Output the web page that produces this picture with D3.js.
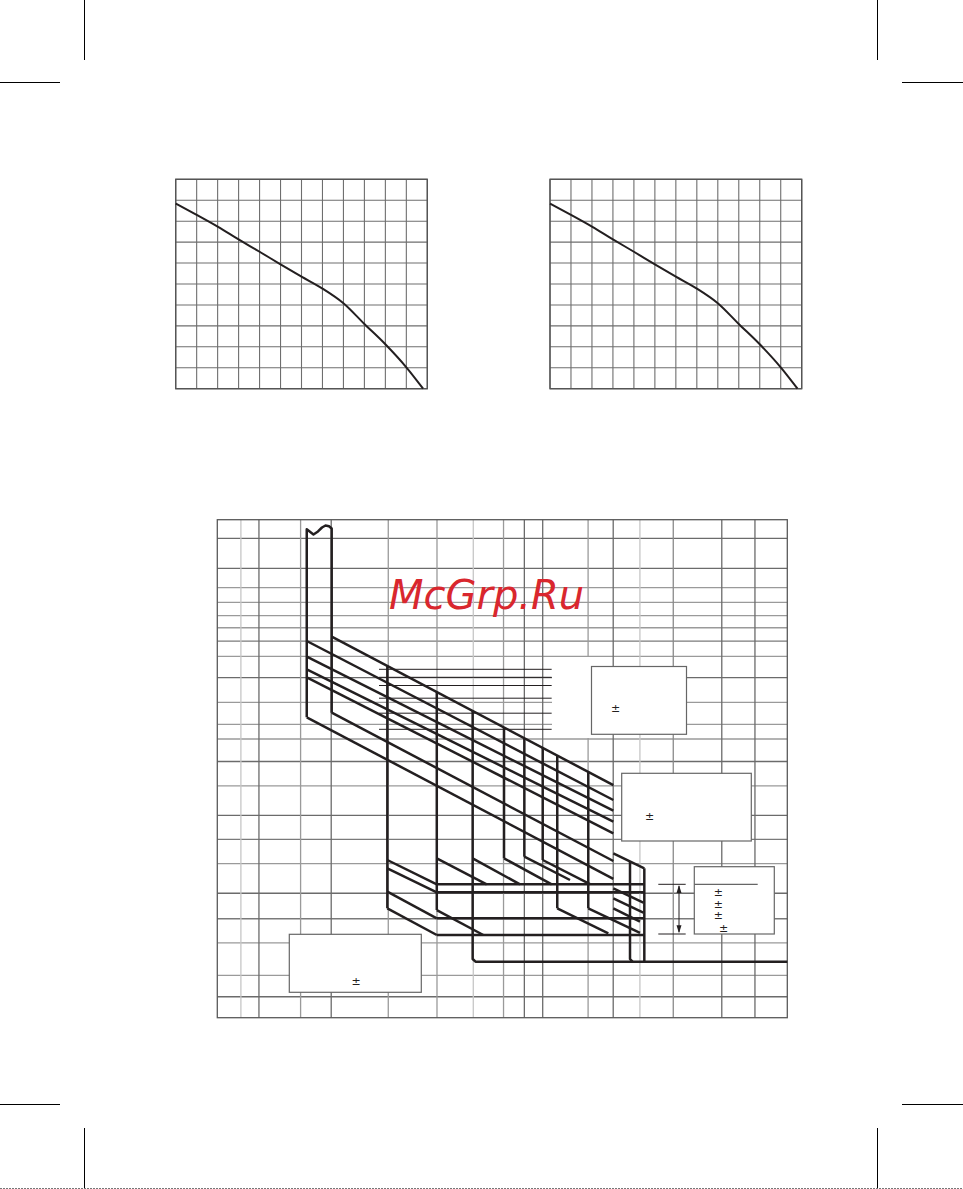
<!DOCTYPE html>
<html><head><meta charset="utf-8">
<script src="https://cdn.jsdelivr.net/npm/d3@7"></script>
<style>html,body{margin:0;padding:0;background:#fff;} svg{display:block;}</style>
</head><body>
<svg id="c" width="963" height="1189"></svg>
<script>
// ---------- DATA ----------
// small derating charts (grid units)
const derateX = [0, 1, 2, 3, 4, 5, 6, 7, 8, 9, 10, 11, 11.8];
const derateY = [8.84, 8.30, 7.74, 7.13, 6.54, 5.94, 5.35, 4.78, 4.08, 3.09, 2.12, 1.02, 0];
const smallXTicks = [0,1,2,3,4,5,6,7,8,9,10,11,12];
const smallYTicks = [0,1,2,3,4,5,6,7,8,9,10];

// big time-current chart: grid lines (multiples of In, seconds)
const xGrid = [1.21, 1.40, 1.96, 2.51, 3.98, 5.90, 7.91, 10.1, 11.95, 13.86, 20.0, 24.5, 30.4, 39.8, 58.9, 77.0];
const yGrid = [5480, 2075, 1107, 690, 447, 303, 197, 120, 60.1, 27.1, 13.3, 8.27, 3.99, 1.81, 0.70, 0.322, 0.146, 0.0561, 0.0246, 0.0113, 0.00394, 0.00197];

// thermal band outline (with break symbol at the top)
const bandOutline = [[2.06,16.69],[2.06,7330],[2.175,6190],[2.256,6830],[2.33,7770],[2.397,8290],[2.466,8100],[2.52,7520],[2.52,19.37]];
// thermal (overload) lines
const thermalLines = [
  [[2.52,226.7],[24.52,1.860]],
  [[2.06,197.2],[24.52,1.148]],
  [[2.06,118.7],[24.52,0.8122]],
  [[2.06,78.92],[24.52,0.5689]],
  [[2.06,60.92],[24.52,0.3908]],
  [[2.52,19.37],[24.52,0.1594]],
  [[2.06,16.69],[24.52,0.08933]]
];
// magnetic trip verticals: [current, t top, t bottom]
const magVerticals = [
  [3.95,87.8,0.0345],[5.89,37.85,0.0326],[10.14,12.0,0.174],[11.95,8.486,0.1833],
  [13.86,6.2,0.1647],[15.59,4.832,0.0345],[20.03,2.851,0.0345],[31.5,0.1259,0.006125]
];
// verticals ending on the instantaneous floor
const floorCurves = [
  [[7.87,20.47],[7.87,0.006685],[8.053,0.006125],[100,0.006125]],
  [[28.06,0.1544],[28.06,0.006685],[28.63,0.006125]]
];
// knee segments after the magnetic step
const kneeSegments = [
  [[3.95,0.1647],[5.89,0.0750]],
  [[3.95,0.1259],[5.89,0.05789]],
  [[3.95,0.05903],[5.89,0.02496]],
  [[3.95,0.0345],[5.89,0.01454]],
  [[5.89,0.174],[8.816,0.0750]],
  [[5.89,0.0326],[8.577,0.01454]],
  [[7.87,0.174],[11.537,0.0750]],
  [[10.14,0.174],[14.905,0.0750]],
  [[11.95,0.1833],[17.28,0.0862]],
  [[13.86,0.1647],[20.31,0.0757]],
  [[15.59,0.0345],[23.55,0.01536]],
  [[20.03,0.0345],[30.42,0.01551]],
  [[24.52,0.2046],[31.5,0.1259]],
  [[24.52,0.0659],[31.24,0.04135]],
  [[24.52,0.04767],[31.24,0.02992]],
  [[24.52,0.0345],[30.42,0.02236]]
];
// instantaneous horizontal levels [from current, to current, time]
const instLevels = [[5.89,31.5,0.0750],[5.89,31.5,0.05789],[5.89,31.5,0.02496],[5.89,31.5,0.01454]];
// leader lines for labels
const leaderTimes = [78.92, 60.92, 46.71, 30.97, 19.06, 11.32];
const leaderRange = [3.693, 14.9];

// ---------- DRAW ----------
const svg = d3.select('#c');
const INK = '#231f20';

// crop marks
const crop = svg.append('g').attr('stroke','#000').attr('stroke-width',1);
[[84.5,0,84.5,60],[877.5,0,877.5,60],[0,82.5,60,82.5],[902,82.5,963,82.5],
 [0,1104.5,60,1104.5],[902,1104.5,963,1104.5],[84.5,1128,84.5,1189],[877.5,1128,877.5,1189]]
 .forEach(l=>crop.append('line').attr('x1',l[0]).attr('y1',l[1]).attr('x2',l[2]).attr('y2',l[3]));
svg.append('line').attr('x1',0).attr('x2',963).attr('y1',1188.5).attr('y2',1188.5)
  .attr('stroke','#777').attr('stroke-width',1).attr('stroke-dasharray','2,1');

// small charts
function smallChart(x0, x1, y0, y1){
  const xs = d3.scaleLinear().domain([0,12]).range([x0,x1]);
  const ys = d3.scaleLinear().domain([0,10]).range([y1,y0]);
  const g = svg.append('g');
  g.append('g').selectAll('line').data(smallXTicks).join('line')
    .attr('x1',d=>xs(d)).attr('x2',d=>xs(d)).attr('y1',ys(0)).attr('y2',ys(10))
    .attr('stroke','#6e6e6e').attr('stroke-width',1.1);
  g.append('g').selectAll('line').data(smallYTicks).join('line')
    .attr('y1',d=>ys(d)).attr('y2',d=>ys(d)).attr('x1',xs(0)).attr('x2',xs(12))
    .attr('stroke','#6e6e6e').attr('stroke-width',1.1);
  g.append('rect').attr('x',xs(0)).attr('y',ys(10)).attr('width',xs(12)-xs(0)).attr('height',ys(0)-ys(10))
    .attr('fill','none').attr('stroke','#555').attr('stroke-width',1.4);
  g.append('path').datum(derateX.map((x,i)=>[x,derateY[i]]))
    .attr('d', d3.line().x(d=>xs(d[0])).y(d=>ys(d[1])).curve(d3.curveMonotoneX))
    .attr('fill','none').attr('stroke',INK).attr('stroke-width',2);
}
smallChart(175.7, 427.3, 179.3, 388.7);
smallChart(550.0, 801.7, 179.3, 388.7);

// big chart
const X0=217.3, X1=787.3, Y0=519.7, Y1=1017.7;
const x = d3.scaleLog().domain([1,100]).range([X0,X1]);
const y = d3.scaleLog().domain([1e4,1e-3]).range([Y0,Y1]);
const xShade = ['#c6c6c6','#6b6b6b','#9a9a9a','#6b6b6b','#9a9a9a','#9a9a9a','#c6c6c6','#9a9a9a','#6b6b6b','#6b6b6b','#9a9a9a','#6b6b6b','#c6c6c6','#8a8a8a','#6b6b6b','#6b6b6b'];
const yShade = ['#6b6b6b','#6b6b6b','#9a9a9a','#9a9a9a','#9a9a9a','#9a9a9a','#7a7a7a','#9a9a9a','#6b6b6b','#9a9a9a','#9a9a9a','#9a9a9a','#6b6b6b','#9a9a9a','#6b6b6b','#7a7a7a','#9a9a9a','#6b6b6b','#7a7a7a','#9a9a9a','#9a9a9a','#6b6b6b'];
const big = svg.append('g');
big.append('g').selectAll('line').data(yGrid).join('line')
  .attr('x1',X0).attr('x2',X1).attr('y1',d=>y(d)).attr('y2',d=>y(d))
  .attr('stroke',(d,i)=>yShade[i]).attr('stroke-width',1.3);
big.append('g').selectAll('line').data(xGrid).join('line')
  .attr('y1',Y0).attr('y2',Y1).attr('x1',d=>x(d)).attr('x2',d=>x(d))
  .attr('stroke',(d,i)=>xShade[i]).attr('stroke-width',1.3);
big.append('rect').attr('x',X0).attr('y',Y0).attr('width',X1-X0).attr('height',Y1-Y0)
  .attr('fill','none').attr('stroke','#5a5a5a').attr('stroke-width',1.3);

// white label area behind leader-line labels
big.append('rect').attr('x',552).attr('y',657).attr('width',40).attr('height',81).attr('fill','#fff');

const line = d3.line().x(d=>x(d[0])).y(d=>y(d[1]));
const curves = big.append('g').attr('fill','none').attr('stroke',INK).attr('stroke-width',2.5)
  .attr('stroke-linejoin','round').attr('stroke-linecap','butt');
curves.append('path').attr('d',line(bandOutline));
thermalLines.forEach(l=>curves.append('path').attr('d',line(l)));
magVerticals.forEach(v=>curves.append('path').attr('d',line([[v[0],v[1]],[v[0],v[2]]])));
floorCurves.forEach(l=>curves.append('path').attr('d',line(l)));
kneeSegments.forEach(l=>curves.append('path').attr('d',line(l)));
instLevels.forEach(h=>curves.append('path').attr('d',line([[h[0],h[2]],[h[1],h[2]]])));

// leader lines
big.append('g').selectAll('line').data(leaderTimes).join('line')
  .attr('x1',x(leaderRange[0])).attr('x2',x(leaderRange[1])).attr('y1',d=>y(d)).attr('y2',d=>y(d))
  .attr('stroke',INK).attr('stroke-width',1);

// annotation boxes
function box(x0,y0,x1,y1){
  big.append('rect').attr('x',x0).attr('y',y0).attr('width',x1-x0).attr('height',y1-y0)
    .attr('fill','#fff').attr('stroke','#666').attr('stroke-width',1.2);
}
function pm(cx,cy){
  big.append('text').attr('x',cx).attr('y',cy).attr('text-anchor','middle')
    .attr('font-family','DejaVu Sans, sans-serif').attr('font-size',11).attr('fill',INK).text('±');
}
box(591.5,666.5,686.5,734.3); pm(615.7,711.5);
box(621.7,773.3,751.3,841); pm(649.7,819.5);
box(694.3,866.7,774.3,934); 
big.append('line').attr('x1',694.3).attr('x2',757.7).attr('y1',884.3).attr('y2',884.3).attr('stroke','#666').attr('stroke-width',1.2);
pm(718.3,896); pm(718.3,907.5); pm(718.3,919); pm(723.7,931.5);
box(289.3,934.3,421.3,992.3); pm(356,984.5);

// dimension arrow
const ar = big.append('g').attr('stroke',INK).attr('stroke-width',1);
ar.append('line').attr('x1',658.3).attr('x2',685.7).attr('y1',884.3).attr('y2',884.3);
ar.append('line').attr('x1',658.3).attr('x2',685.7).attr('y1',934).attr('y2',934);
ar.append('line').attr('x1',679).attr('x2',679).attr('y1',886).attr('y2',932);
big.append('path').attr('d','M679,885 L676.5,893 L681.5,893 Z M679,933.3 L676.5,925.3 L681.5,925.3 Z').attr('fill',INK);

// watermark
svg.append('text').attr('x',389).attr('y',609)
  .attr('font-family','DejaVu Sans, sans-serif').attr('font-style','italic').attr('font-size',40)
  .attr('fill','#d9272e').text('McGrp.Ru');
</script>
</body></html>
